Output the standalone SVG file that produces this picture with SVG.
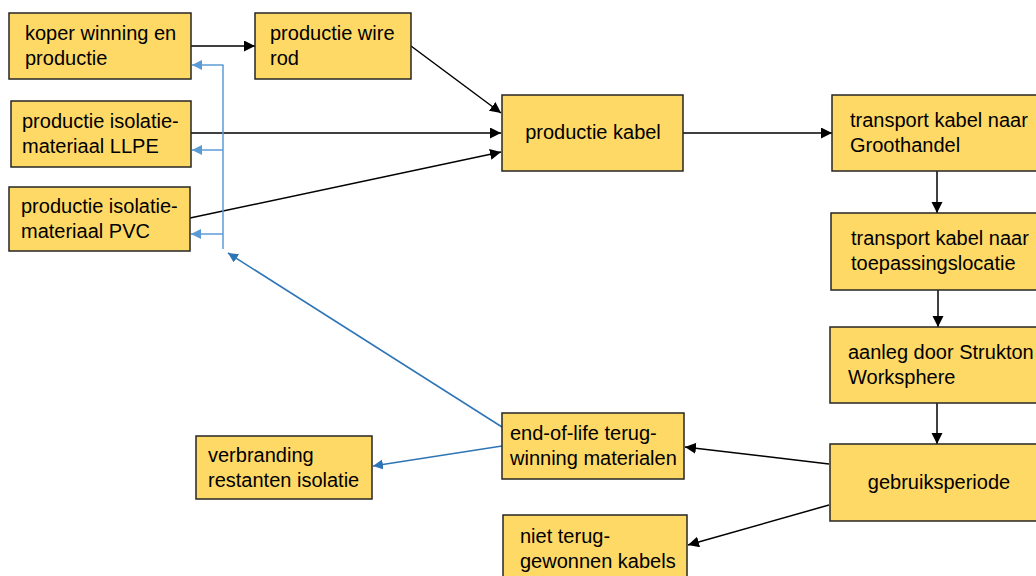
<svg xmlns="http://www.w3.org/2000/svg" width="1036" height="576" viewBox="0 0 1036 576">
<style>
.box{fill:#FFD966;stroke:#262626;stroke-width:1.5}
.t{font-family:"Liberation Sans",Arial,sans-serif;font-size:20px;fill:#000}
.c{text-anchor:middle}
.k{stroke:#000;stroke-width:1.5;fill:none}
.lb{stroke:#5B9BD5;stroke-width:1.5;fill:none}
.db{stroke:#2E75B6;stroke-width:1.5;fill:none}
</style>
<defs>
<marker id="ak" markerUnits="userSpaceOnUse" markerWidth="12" markerHeight="12" refX="11" refY="5.5" orient="auto"><path d="M0,0 L11,5.5 L0,11 z" fill="#000"/></marker>
<marker id="alb" markerUnits="userSpaceOnUse" markerWidth="12" markerHeight="12" refX="10" refY="5" orient="auto"><path d="M0,0 L10,5 L0,10 z" fill="#5B9BD5"/></marker>
<marker id="adb" markerUnits="userSpaceOnUse" markerWidth="12" markerHeight="12" refX="10" refY="5" orient="auto"><path d="M0,0 L10,5 L0,10 z" fill="#2E75B6"/></marker>
</defs>
<rect width="1036" height="576" fill="#fff"/>
<g id="connectors">
<line class="k" x1="191" y1="46" x2="255" y2="46" marker-end="url(#ak)"/>
<line class="k" x1="411" y1="46" x2="501" y2="113" marker-end="url(#ak)"/>
<line class="k" x1="191" y1="133" x2="501" y2="133" marker-end="url(#ak)"/>
<line class="k" x1="190" y1="218" x2="501" y2="152" marker-end="url(#ak)"/>
<line class="k" x1="683" y1="133" x2="832" y2="133" marker-end="url(#ak)"/>
<line class="k" x1="937" y1="171" x2="937" y2="213" marker-end="url(#ak)"/>
<line class="k" x1="938" y1="290" x2="938" y2="327" marker-end="url(#ak)"/>
<line class="k" x1="937" y1="403" x2="937" y2="444" marker-end="url(#ak)"/>
<line class="k" x1="829" y1="464" x2="685" y2="447" marker-end="url(#ak)"/>
<line class="k" x1="829" y1="505" x2="688" y2="545" marker-end="url(#ak)"/>
<line class="lb" x1="223" y1="65" x2="223" y2="249"/>
<line class="lb" x1="223.5" y1="65" x2="192" y2="65" marker-end="url(#alb)"/>
<line class="lb" x1="223" y1="150" x2="192" y2="150" marker-end="url(#alb)"/>
<line class="lb" x1="223" y1="234" x2="191" y2="234" marker-end="url(#alb)"/>
<line class="db" x1="502" y1="427" x2="228" y2="253" marker-end="url(#adb)"/>
<line class="db" x1="502" y1="446" x2="373" y2="466" marker-end="url(#adb)"/>
</g>
<g id="n1"><rect class="box" x="9" y="13" width="182" height="66"/><text class="t" x="25" y="40">koper winning en</text><text class="t" x="25" y="65">productie</text></g>
<g id="n2"><rect class="box" x="255" y="13" width="156" height="66"/><text class="t" x="270" y="40">productie wire</text><text class="t" x="270" y="65">rod</text></g>
<g id="n3"><rect class="box" x="11" y="101" width="180" height="66"/><text class="t" x="22" y="128">productie isolatie-</text><text class="t" x="22" y="153">materiaal LLPE</text></g>
<g id="n4"><rect class="box" x="9" y="187" width="181" height="64"/><text class="t" x="21" y="213">productie isolatie-</text><text class="t" x="21" y="238">materiaal PVC</text></g>
<g id="n5"><rect class="box" x="502" y="95" width="181" height="76"/><text class="t c" x="593" y="139">productie kabel</text></g>
<g id="n6"><rect class="box" x="832" y="95" width="210" height="76"/><text class="t" x="850" y="127">transport kabel naar</text><text class="t" x="850" y="152">Groothandel</text></g>
<g id="n7"><rect class="box" x="831" y="213" width="211" height="77"/><text class="t" x="851" y="245">transport kabel naar</text><text class="t" x="851" y="270">toepassingslocatie</text></g>
<g id="n8"><rect class="box" x="830" y="327" width="212" height="76"/><text class="t" x="848" y="359">aanleg door Strukton</text><text class="t" x="848" y="384">Worksphere</text></g>
<g id="n9"><rect class="box" x="830" y="444" width="212" height="77"/><text class="t c" x="939" y="489">gebruiksperiode</text></g>
<g id="n10"><rect class="box" x="502" y="413" width="182" height="66"/><text class="t" x="510" y="440">end-of-life terug-</text><text class="t" x="510" y="465">winning materialen</text></g>
<g id="n11"><rect class="box" x="196" y="436" width="176" height="63"/><text class="t" x="208" y="462">verbranding</text><text class="t" x="208" y="487">restanten isolatie</text></g>
<g id="n12"><rect class="box" x="503" y="515" width="184" height="70"/><text class="t" x="520" y="543">niet terug-</text><text class="t" x="520" y="568">gewonnen kabels</text></g>
</svg>
